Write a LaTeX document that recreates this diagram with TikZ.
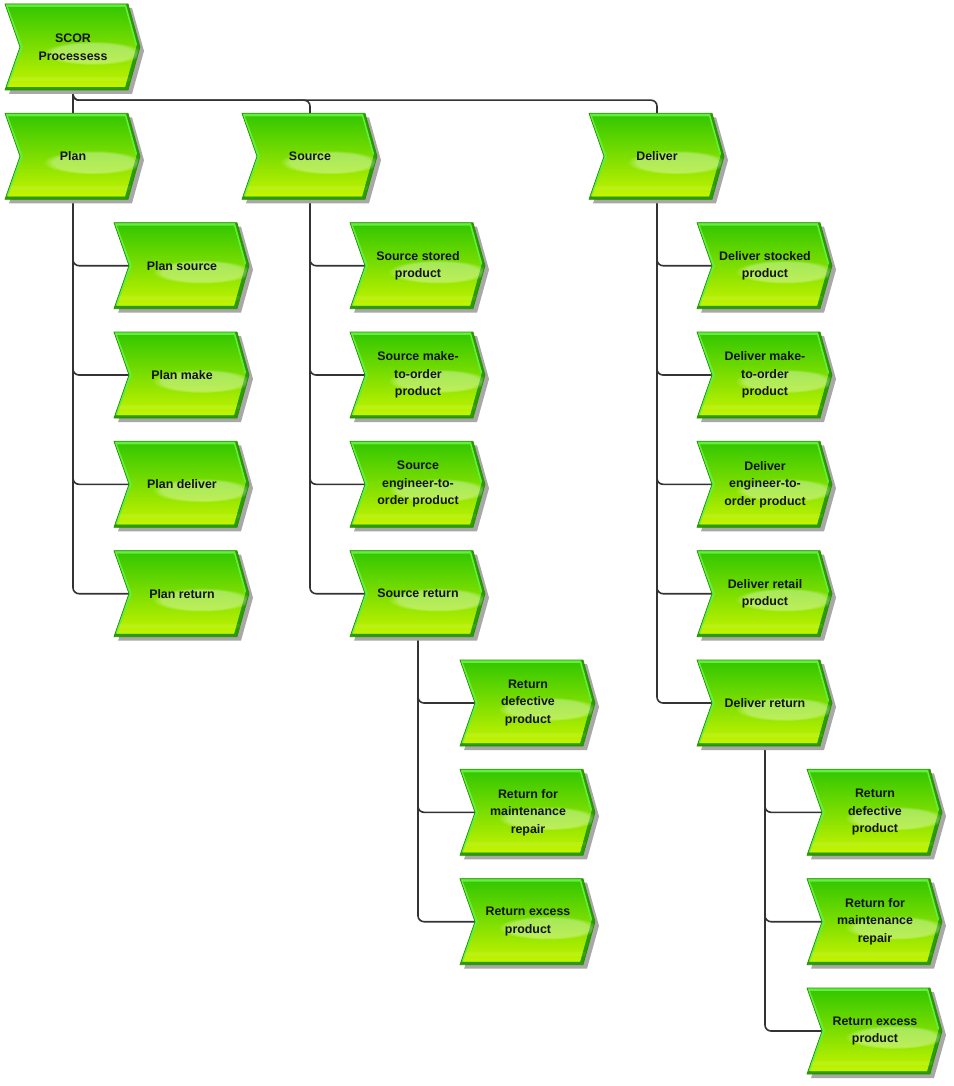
\documentclass[tikz,border=0pt]{standalone}
\usepackage{fontspec}
\setmainfont{Liberation Sans}
\usetikzlibrary{calc,fadings}
\pgfdeclarelayer{bg}
\pgfsetlayers{bg,main}
\definecolor{darkg}{HTML}{2C9C00}
\definecolor{lightg}{HTML}{62F03E}
\definecolor{edgec}{HTML}{2A8F00}
\definecolor{topg}{HTML}{36C800}
\definecolor{midg}{HTML}{7ADC00}
\definecolor{botg}{HTML}{C4F400}
\definecolor{shadowc}{HTML}{A8A8A8}
\definecolor{linec}{HTML}{333333}
\tikzset{
  lbl/.style={minimum width=136pt, minimum height=86pt, inner sep=0pt,
    align=center, text=black!92,
    font=\fontsize{12.4}{17.5}\selectfont\bfseries},
  conn/.style={draw=linec, line width=1.6pt, rounded corners=6pt},
}
\newcommand\chevnode[4]{%
  \pgfmathsetmacro\xa{#2}\pgfmathsetmacro\ya{#3-43}%
  \begin{scope}[shift={(\xa,\ya)}]
    \fill[shadowc] (4,4) -- (127,4) -- (139,47) -- (127,90) -- (4,90) -- (19,47) -- cycle;
    \begin{scope}
      \clip (0,0) -- (123,0) -- (135,43) -- (123,86) -- (0,86) -- (15,43) -- cycle;
      \fill[darkg] (-2,-2) rectangle (140,90);
      \fill[lightg] (-3,-3) -- (120,-3) -- (132,40) -- (120,83) -- (-3,83) -- (12,40) -- cycle;
      \shade[top color=topg, middle color=midg, bottom color=botg] (3,3) -- (120,3) -- (131,43) -- (120,83) -- (3,83) -- (18,43) -- cycle;
      \fill[white, opacity=.35, path fading=circle with fuzzy edge 20 percent] (88,49) ellipse (50 and 12);
      \fill[white, opacity=.08] (3,73) rectangle (130,77);
    \end{scope}
    \draw[edgec, line width=.7pt] (0,0) -- (123,0) -- (135,43) -- (123,86) -- (0,86) -- (15,43) -- cycle;
  \end{scope}
  \node[lbl] (#1) at (\xa+68,#3) {#4};%
}
\begin{document}
\begin{tikzpicture}[x=1pt, y=-1pt]
\useasboundingbox (0,0) rectangle (953,1086);
% rows
\def\ra{47}\def\rb{156.3}\def\rc{265.7}\def\rd{375}\def\re{484.3}
\def\rf{593.7}\def\rg{703}\def\rh{812.3}\def\ri{921.7}\def\rj{1031}
% nodes
\chevnode{scor}{5}{\ra}{SCOR\\Processess}
\chevnode{plan}{5}{\rb}{Plan}
\chevnode{source}{242}{\rb}{Source}
\chevnode{deliver}{589}{\rb}{Deliver}
\chevnode{ps}{114}{\rc}{Plan source}
\chevnode{pm}{114}{\rd}{Plan make}
\chevnode{pd}{114}{\re}{Plan deliver}
\chevnode{pr}{114}{\rf}{Plan return}
\chevnode{ss}{350}{\rc}{Source stored\\product}
\chevnode{sm}{350}{\rd}{Source make-\\to-order\\product}
\chevnode{se}{350}{\re}{Source\\engineer-to-\\order product}
\chevnode{sr}{350}{\rf}{Source return}
\chevnode{srd}{460}{\rg}{Return\\defective\\product}
\chevnode{srm}{460}{\rh}{Return for\\maintenance\\repair}
\chevnode{sre}{460}{\ri}{Return excess\\product}
\chevnode{ds}{697}{\rc}{Deliver stocked\\product}
\chevnode{dm}{697}{\rd}{Deliver make-\\to-order\\product}
\chevnode{de}{697}{\re}{Deliver\\engineer-to-\\order product}
\chevnode{drt}{697}{\rf}{Deliver retail\\product}
\chevnode{dr}{697}{\rg}{Deliver return}
\chevnode{drd}{807}{\rh}{Return\\defective\\product}
\chevnode{drm}{807}{\ri}{Return for\\maintenance\\repair}
\chevnode{dre}{807}{\rj}{Return excess\\product}
% connectors
\begin{pgfonlayer}{bg}
\draw[conn] (scor.south) -- (plan.north);
\draw[conn] (scor.south) -- ++(0,10) -| (source.north);
\draw[conn] (scor.south) -- ++(0,10) -| (deliver.north);
\foreach \c in {ps,pm,pd,pr} \draw[conn] (plan.south) |- ([xshift=15pt]\c.west);
\foreach \c in {ss,sm,se,sr} \draw[conn] (source.south) |- ([xshift=15pt]\c.west);
\foreach \c in {srd,srm,sre} \draw[conn] (sr.south) |- ([xshift=15pt]\c.west);
\foreach \c in {ds,dm,de,drt,dr} \draw[conn] (deliver.south) |- ([xshift=15pt]\c.west);
\foreach \c in {drd,drm,dre} \draw[conn] (dr.south) |- ([xshift=15pt]\c.west);
\end{pgfonlayer}
\end{tikzpicture}
\end{document}
